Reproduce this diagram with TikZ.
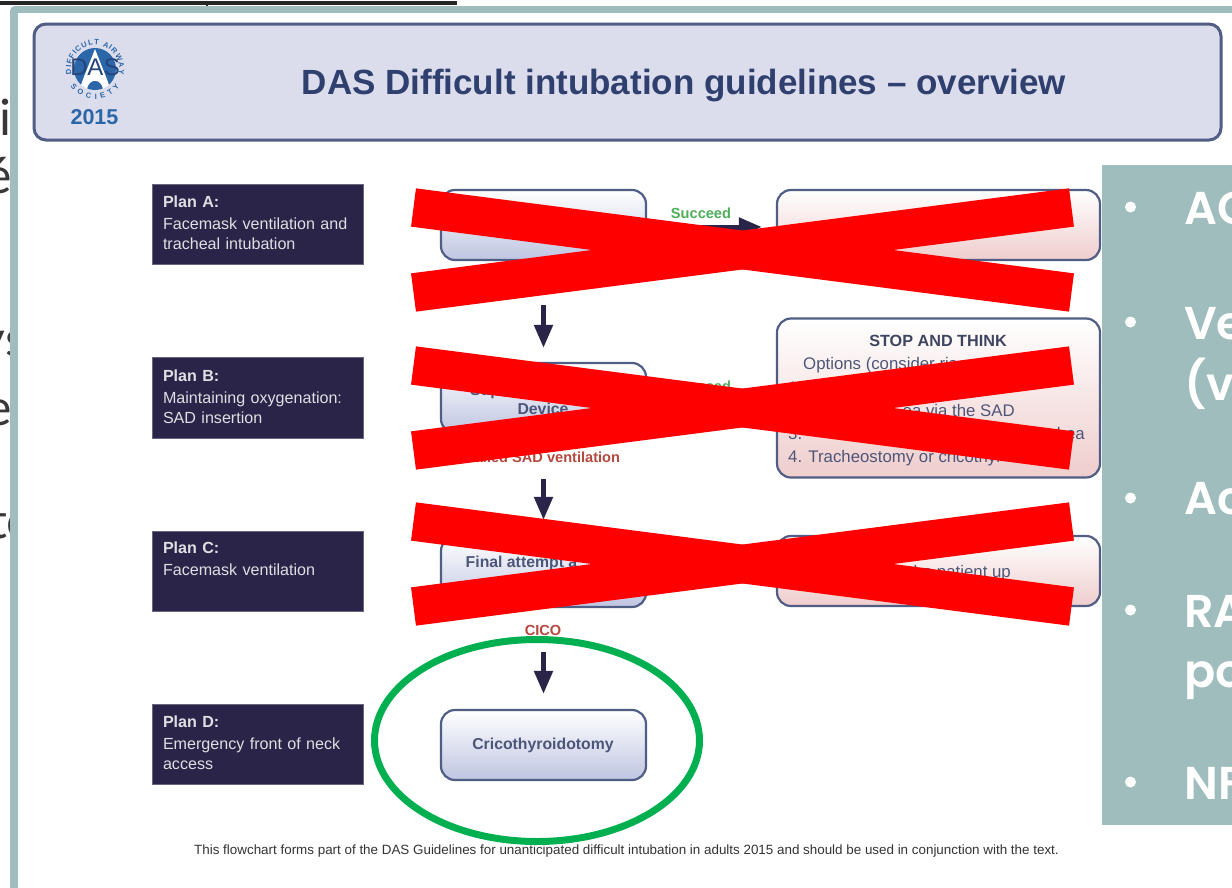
\documentclass[tikz,border=0pt]{standalone}
\usepackage{fontspec}
\setmainfont{Liberation Sans}
\newfontfamily\panelfont{Poppins SemiBold}
\newfontfamily\slidefont{Lato}
\usetikzlibrary{arrows.meta,decorations.text}
\definecolor{panelteal}{HTML}{9EBDBC}
\definecolor{headfill}{HTML}{DCDDEC}
\definecolor{boxedge}{HTML}{505D85}
\definecolor{navy}{HTML}{2A2548}
\definecolor{titleblue}{HTML}{2F3F6E}
\definecolor{greyblue}{HTML}{4D5678}
\definecolor{logoblue}{HTML}{2A66A8}
\definecolor{logodark}{HTML}{24447A}
\definecolor{okgreen}{HTML}{4FAE5A}
\definecolor{failred}{HTML}{B5483F}
\definecolor{ringgreen}{HTML}{00B050}
\definecolor{boxblue}{HTML}{BFC5E1}
\definecolor{boxpink}{HTML}{EFCDCD}
\newcommand{\pdrop}{\rule[-3pt]{0pt}{0pt}}
\tikzset{
  planbox/.style={fill=navy,draw=navy!70!white,line width=.6pt,minimum width=211.5pt,minimum height=80.5pt,
    text width=190pt,align=left,text=white!85!navy,inner sep=0pt,font=\fontsize{16.1}{20}\selectfont},
  bluebox/.style={draw=boxedge,line width=2.2pt,rounded corners=14pt,minimum width=205pt,minimum height=70pt,
    top color=white,bottom color=boxblue},
  pinkbox/.style={draw=boxedge,line width=2.2pt,rounded corners=14pt,minimum width=323pt,
    top color=white,bottom color=boxpink},
  flowarrow/.style={navy,line width=5pt,-{Triangle[length=23pt,width=18pt]}},
  boxtext/.style={inner sep=0pt,text=greyblue,font=\fontsize{15.8}{18}\selectfont\bfseries},
  stoptext/.style={inner sep=0pt,text=greyblue,font=\fontsize{16.8}{18}\selectfont},
  lbl/.style={inner sep=0pt,font=\fontsize{14.6}{16}\selectfont\bfseries},
  crossbar/.style={red,line width=38.6pt},
  sidetext/.style={inner sep=0pt,anchor=base west,text=white,font=\panelfont\fontsize{46}{50}\selectfont},
  slidetext/.style={inner sep=0pt,anchor=base east,text=black!78,font=\slidefont\fontsize{50}{52}\selectfont},
  dasletter/.style={inner sep=0pt,text=logodark,font=\fontsize{24}{26}\selectfont},
}
\begin{document}
\begin{tikzpicture}[x=1pt,y=-1pt]
\useasboundingbox (0,0) rectangle (1232,887);
\clip (0,0) rectangle (1232,887);
\fill[white] (0,0) rectangle (1232,887);
% underline of the slide above
\coordinate (ulA) at (0,2.5); \coordinate (ulB) at (457,2.5);
\draw[black!85,line width=4pt] (ulA) -- (ulB);
\coordinate (tkA) at (207,2); \coordinate (tkB) at (207,6.5);
\draw[black!85,line width=1.6pt] (tkA) -- (tkB);
% slide text behind the panel
\node[slidetext] (s1) at (12,135) {oi};
\node[slidetext] (s2) at (12,193) {é};
\node[slidetext] (s3) at (27,356) {ys};
\node[slidetext] (s4) at (12,425) {e};
\node[slidetext] (s5) at (31,538) {tc};
% panel
\fill[panelteal,rounded corners=5pt] (10,6) rectangle (1260,920);
\fill[white] (18,13) rectangle (1260,920);
% header
\node[draw=boxedge,line width=3pt,fill=headfill,rounded corners=12pt,minimum width=1187pt,minimum height=116pt,inner sep=0pt] (head) at (627.5,82) {};
\node[inner sep=0pt,text=titleblue,font=\fontsize{35}{38}\selectfont\bfseries] (title) at (684,86) {DAS Difficult intubation guidelines – overview};
% logo
\fill[logoblue] (95,69) circle[radius=21];
\fill[white] (95,49) .. controls (90,62) and (84,76) .. (81,85) -- (87,89) .. controls (89,78) and (101,78) .. (103,89) -- (109,85) .. controls (106,76) and (100,62) .. (95,49) -- cycle;
\node[dasletter] (dasd) at (79,67) {D};
\node[dasletter] (dasa) at (95.5,67) {A};
\node[dasletter] (dass) at (112,67) {S};
\path[decorate,decoration={text along path,text align={fit to path},text color=logoblue,text={|\fontsize{7.5}{8}\selectfont\bfseries|DIFFICULT AIRWAY}}] ({95+24*cos(168)},{69+24*sin(168)}) arc[start angle=168,end angle=372,radius=24];
\path[decorate,decoration={text along path,text align={fit to path},text color=logoblue,text={|\fontsize{7.5}{8}\selectfont\bfseries|SOCIETY}}] ({95+30*cos(145)},{69+30*sin(145)}) arc[start angle=145,end angle=35,radius=30];
\node[inner sep=0pt,text=logoblue,font=\fontsize{21.5}{24}\selectfont\bfseries] (year) at (94.5,117) {2015};
% plan labels
\node[planbox] (planA) at (258,224.5) {\textbf{Plan A:}\\[2pt]Facemask ventilation and\\tracheal intubation\pdrop};
\node[planbox] (planB) at (258,398) {\textbf{Plan B:}\\[2pt]Maintaining oxygenation:\\SAD insertion\pdrop};
\node[planbox] (planC) at (258,571.5) {\textbf{Plan C:}\\[2pt]Facemask ventilation\\\strut\pdrop};
\node[planbox] (planD) at (258,744.5) {\textbf{Plan D:}\\[2pt]Emergency front of neck\\access\pdrop};
% flow boxes
\node[bluebox] (a1) at (543.5,225) {};
\node[bluebox] (b1) at (543.5,398) {};
\node[bluebox] (c1) at (543.5,572) {};
\node[bluebox] (d1) at (543.5,745) {};
\node[pinkbox,minimum height=70pt] (a2) at (938.5,225) {};
\node[pinkbox,minimum height=159pt] (stop) at (938.5,398) {};
\node[pinkbox,minimum height=70pt] (c2) at (938.5,571) {};
% connectors
\draw[flowarrow,shorten <=44pt,shorten >=14pt] (a1.south) -- (b1.north);
\draw[flowarrow,shorten <=45pt,shorten >=16pt] (b1.south) -- (c1.north);
\draw[flowarrow,shorten <=44pt,shorten >=15pt] (c1.south) -- (d1.north);
\draw[flowarrow,shorten >=14pt] ([yshift=-2pt]a1.east) -- ([yshift=-2pt]a2.west);
% labels
\node[lbl,text=okgreen] (s1lbl) at (701,213) {Succeed};
\node[lbl,text=okgreen] (s2lbl) at (701,386) {Succeed};
\node[lbl,text=failred] (failB) at (543,457) {Failed SAD ventilation};
\node[lbl,text=failred] (cico) at (543,630) {CICO};
% box texts
\node[boxtext,anchor=base west] (supra) at (470,395) {Sup};
\node[boxtext] (device) at (543,409) {Device};
\node[boxtext,anchor=base west] (finalt) at (465.5,567) {Final attempt a};
\node[boxtext] (crico) at (543,745) {Cricothyroidotomy};
\node[inner sep=0pt,text=greyblue!80!black,font=\fontsize{16.2}{18}\selectfont\bfseries] (stopt) at (938,341) {STOP AND THINK};
\node[stoptext,anchor=base west] (opt) at (803,369) {Options (consider ris};
\node[stoptext,anchor=base west] (l1) at (788,393) {1.};
\node[stoptext,anchor=base east] (l2) at (1015,416) {ea via the SAD};
\node[stoptext,anchor=base east] (l3) at (1085,439) {hea};
\node[stoptext,anchor=base west] (l3a) at (788,439) {3.};
\node[stoptext,anchor=base west] (l4) at (788,462) {4. Tracheostomy or cricothyr};
\node[stoptext,anchor=base east] (wake) at (1011,577) {the patient up};
% footnote
\node[inner sep=0pt,text=black!80,font=\fontsize{13.4}{15}\selectfont] (foot) at (626.5,851) {This flowchart forms part of the DAS Guidelines for unanticipated difficult intubation in adults 2015 and should be used in conjunction with the text.};
% side panel
\fill[panelteal] (1102,165) rectangle (1240,825);
\foreach \by in {207,322,498,610,782} \fill[white] (1130.5,\by) circle[radius=5.5];
\node[sidetext] (t1) at (1184,224) {AC};
\node[sidetext] (t2) at (1184,339) {Ve};
\node[sidetext] (t3) at (1184,400) {(ve};
\node[sidetext] (t4) at (1184,514) {Ac};
\node[sidetext] (t5) at (1184,627) {RA};
\node[sidetext] (t6) at (1184,687) {po};
\node[sidetext] (t7) at (1184,799) {NF};
% red crosses
\foreach \cy in {250,408,564} {
  \draw[crossbar] (413.5,\cy-42.5) -- (1071.5,\cy+42.5);
  \draw[crossbar] (413.5,\cy+42.5) -- (1071.5,\cy-42.5);
}
% green ring
\draw[ringgreen,line width=7pt] (537,740.5) ellipse[x radius=162.5,y radius=101];
\end{tikzpicture}
\end{document}
